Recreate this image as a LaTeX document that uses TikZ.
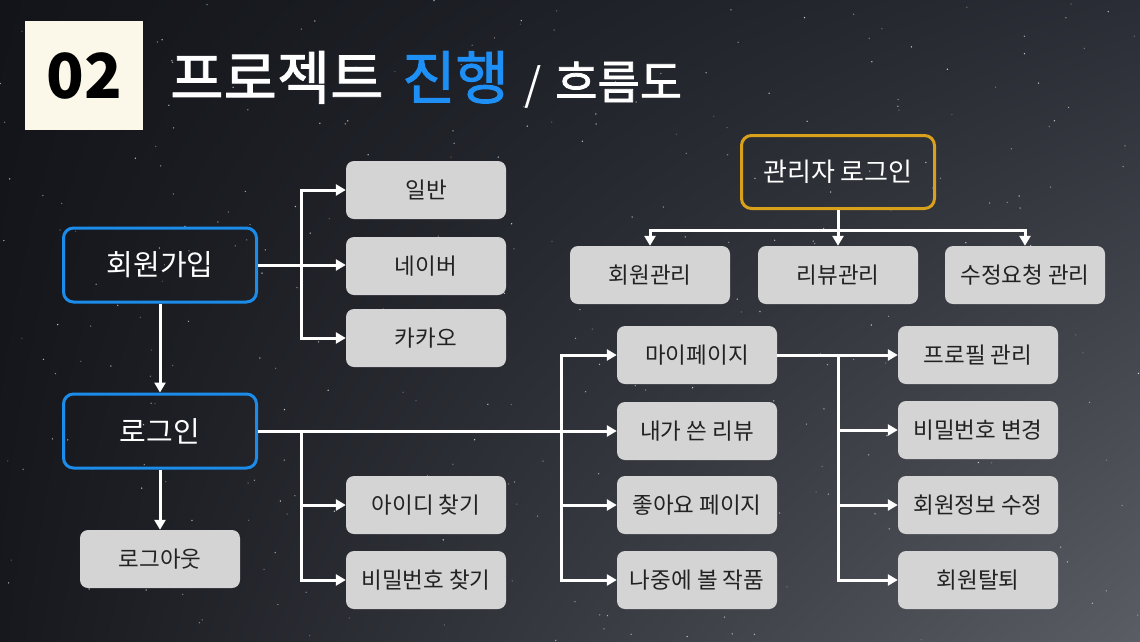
\documentclass[tikz,border=0pt]{standalone}
\usepackage{fontspec}
\setmainfont{Noto Sans CJK KR}
\newfontfamily\titlefont[FakeBold=1.6]{Noto Sans CJK KR}
\usetikzlibrary{arrows.meta,shadings}
\definecolor{bgUL}{HTML}{121419}
\definecolor{bgUR}{HTML}{2A2D35}
\definecolor{bgLL}{HTML}{16181E}
\definecolor{bgLR}{HTML}{5A5D64}
\definecolor{boxgray}{HTML}{D4D4D4}
\definecolor{boxtext}{HTML}{222222}
\definecolor{mainblue}{HTML}{1C8CEB}
\definecolor{titleblue}{HTML}{1E90F5}
\definecolor{gold}{HTML}{D9A01C}
\definecolor{cream}{HTML}{FBF8EA}
\tikzset{
  graybox/.style={rectangle, rounded corners=8pt, fill=boxgray, minimum width=160pt, minimum height=58pt, inner sep=0pt, text=boxtext, font=\fontsize{22.5}{26}\selectfont},
  bluebox/.style={rectangle, rounded corners=10pt, draw=mainblue, line width=3pt, minimum width=193pt, minimum height=74pt, inner sep=0pt, text=white, font=\fontsize{29}{33}\selectfont},
  goldbox/.style={rectangle, rounded corners=10pt, draw=gold, line width=3pt, minimum width=193pt, minimum height=73pt, inner sep=0pt, text=white, font=\fontsize{26}{30}\selectfont},
  conn/.style={draw=white, line width=3pt, -{Triangle[length=10pt,width=11pt]}},
  title/.style={anchor=base west, inner sep=0pt, text=white, font=\titlefont\fontsize{58}{64}\selectfont}
}
\begin{document}
\begin{tikzpicture}[x=1pt,y=-1pt]
\useasboundingbox (0,0) rectangle (1140,641);
\shade[upper left=bgUL, upper right=bgUR, lower left=bgLL, lower right=bgLR] (0,0) rectangle (1140,641);
\pgfmathsetseed{7}
\foreach \i in {1,...,320} {
  \pgfmathsetmacro\sx{rnd*1140}
  \pgfmathsetmacro\sy{rnd*641}
  \pgfmathsetmacro\so{0.2+0.6*rnd}
  \fill[white, opacity=\so] (\sx,\sy) circle (0.75pt);
}
% title
\node[rectangle, fill=cream, minimum width=118pt, minimum height=109pt, inner sep=0pt, font=\bfseries\fontsize{62}{66}\selectfont, text=black] (num) at (84,75.5) {02};
\node[title] (t1) at (170,99) {프로젝트};
\node[title, text=titleblue] (t2) at (402,99) {진행};
\node[title, font=\fontsize{44}{50}\selectfont] (t3) at (524,100) {/};
\node[title, font=\titlefont\fontsize{46}{52}\selectfont] (t4) at (555,99) {흐름도};
% nodes
\node[bluebox] (join) at (160,265) {회원가입};
\node[bluebox] (login) at (160,431) {로그인};
\node[graybox] (logout) at (160,559) {로그아웃};
\node[graybox] (ilban) at (426,190) {일반};
\node[graybox] (naver) at (426,266) {네이버};
\node[graybox] (kakao) at (426,338) {카카오};
\node[graybox] (idfind) at (426,505) {아이디 찾기};
\node[graybox] (pwfind) at (426,580) {비밀번호 찾기};
\node[graybox] (mypage) at (697,355) {마이페이지};
\node[graybox] (review) at (697,431) {내가 쓴 리뷰};
\node[graybox] (like) at (697,505) {좋아요 페이지};
\node[graybox] (later) at (697,580) {나중에 볼 작품};
\node[graybox] (profile) at (978,355) {프로필 관리};
\node[graybox] (pwchange) at (978,430) {비밀번호 변경};
\node[graybox] (infoedit) at (978,505) {회원정보 수정};
\node[graybox] (withdraw) at (978,580) {회원탈퇴};
\node[goldbox] (admin) at (838,172) {관리자 로그인};
\node[graybox] (memmg) at (650,275) {회원관리};
\node[graybox] (revmg) at (838,275) {리뷰관리};
\node[graybox] (reqmg) at (1025,275) {수정요청 관리};
% junction coordinates
\coordinate (j1) at (301,265);
\coordinate (j2) at (301,431);
\coordinate (j3) at (561,431);
\coordinate (j4) at (838,355);
\coordinate (j5) at (838,230);
% connectors
\draw[conn] (join.east) -- (join.east -| naver.west);
\draw[conn] (j1) |- (ilban.west);
\draw[conn] (j1) |- (kakao.west);
\draw[conn] (join.south) -- (login.north);
\draw[conn] (login.south) -- (logout.north);
\draw[conn] (login.east) -- (login.east -| review.west);
\draw[conn] (j2) |- (idfind.west);
\draw[conn] (j2) |- (pwfind.west);
\draw[conn] (j3) |- (mypage.west);
\draw[conn] (j3) |- (like.west);
\draw[conn] (j3) |- (later.west);
\draw[conn] (mypage.east) -- (mypage.east -| profile.west);
\draw[conn] (j4) |- (pwchange.west);
\draw[conn] (j4) |- (infoedit.west);
\draw[conn] (j4) |- (withdraw.west);
\draw[draw=white, line width=3pt] (admin.south) -- (j5);
\draw[conn] (j5) -| (memmg.north);
\draw[conn] (j5) -- (revmg.north);
\draw[conn] (j5) -| (reqmg.north);
\end{tikzpicture}
\end{document}
